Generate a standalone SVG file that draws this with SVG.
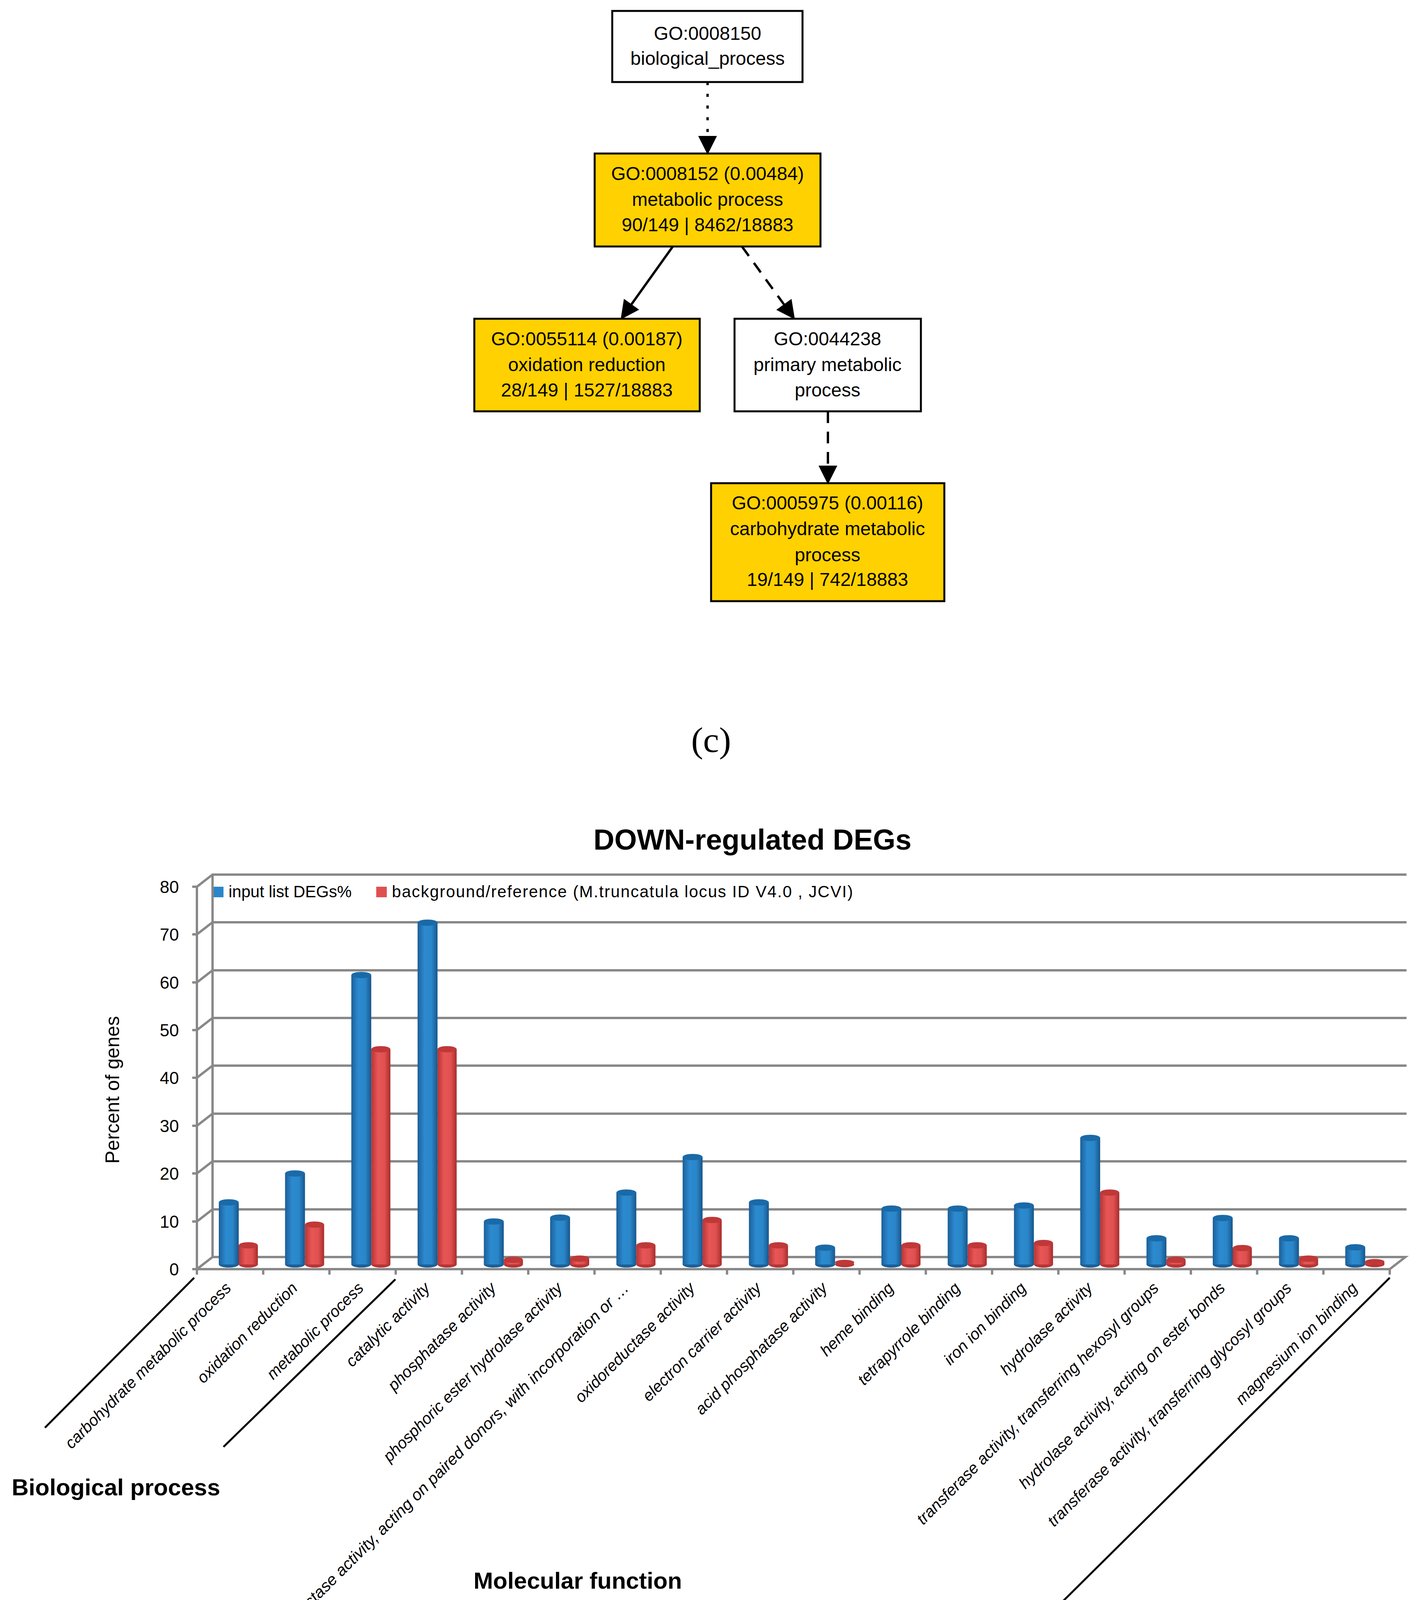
<svg xmlns="http://www.w3.org/2000/svg" width="3637" height="4545" viewBox="0 0 3637 4545">
<style>
.node{stroke:#000;stroke-width:5}
.y{fill:#ffd100}
.w{fill:#fff}
.nt{font-family:"Liberation Sans",Arial,sans-serif;font-size:48px;text-anchor:middle;fill:#000}
.edge{stroke:#000;stroke-width:6;fill:none}
.grid{stroke:#888;stroke-width:6;fill:none}
.tick{font-family:"Liberation Sans",Arial,sans-serif;font-size:44px;text-anchor:end;fill:#000}
.cat{font-family:"Liberation Sans",Arial,sans-serif;font-size:41px;font-style:italic;text-anchor:end;fill:#000}
.sec{font-family:"Liberation Sans",Arial,sans-serif;font-size:60px;font-weight:bold;fill:#000}
.lab{font-family:"Liberation Serif","Times New Roman",serif;font-size:92px;text-anchor:middle;fill:#000}
.div{stroke:#000;stroke-width:5}
</style>
<defs>
<marker id="ah" markerWidth="8" markerHeight="8" refX="7" refY="4" orient="auto" markerUnits="strokeWidth"><path d="M0,0 L8,4 L0,8 Z" fill="#000"/></marker>
<linearGradient id="gb" x1="0" x2="1" y1="0" y2="0"><stop offset="0" stop-color="#1c5f98"/><stop offset="0.35" stop-color="#2c8ad0"/><stop offset="0.7" stop-color="#2a86c8"/><stop offset="1" stop-color="#17568c"/></linearGradient>
<linearGradient id="gr" x1="0" x2="1" y1="0" y2="0"><stop offset="0" stop-color="#b83434"/><stop offset="0.35" stop-color="#e85656"/><stop offset="0.7" stop-color="#e05050"/><stop offset="1" stop-color="#a82c2c"/></linearGradient>
</defs>

<g id="connectors">
<line class="edge" x1="1811" y1="210" x2="1811" y2="390" stroke-dasharray="8,22" marker-end="url(#ah)"/>
<line class="edge" x1="1722" y1="631" x2="1592" y2="813" marker-end="url(#ah)"/>
<line class="edge" x1="1899" y1="631" x2="2031" y2="813" stroke-dasharray="30,22" marker-end="url(#ah)"/>
<line class="edge" x1="2119" y1="1053" x2="2119" y2="1234" stroke-dasharray="30,22" marker-end="url(#ah)"/>
</g>

<g id="n1"><rect class="node w" x="1567" y="28" width="487" height="182"/>
<text class="nt" x="1811" y="102">GO:0008150</text><text class="nt" x="1811" y="166">biological_process</text></g>
<g id="n2"><rect class="node y" x="1522" y="393" width="578" height="238"/>
<text class="nt" x="1811" y="461">GO:0008152 (0.00484)</text><text class="nt" x="1811" y="527">metabolic process</text><text class="nt" x="1811" y="592">90/149 | 8462/18883</text></g>
<g id="n3"><rect class="node y" x="1214" y="816" width="577" height="237"/>
<text class="nt" x="1502" y="884">GO:0055114 (0.00187)</text><text class="nt" x="1502" y="950">oxidation reduction</text><text class="nt" x="1502" y="1015">28/149 | 1527/18883</text></g>
<g id="n4"><rect class="node w" x="1880" y="816" width="477" height="237"/>
<text class="nt" x="2118" y="884">GO:0044238</text><text class="nt" x="2118" y="950">primary metabolic</text><text class="nt" x="2118" y="1015">process</text></g>
<g id="n5"><rect class="node y" x="1820" y="1237" width="597" height="302"/>
<text class="nt" x="2118" y="1304">GO:0005975 (0.00116)</text><text class="nt" x="2118" y="1370">carbohydrate metabolic</text><text class="nt" x="2118" y="1437">process</text><text class="nt" x="2118" y="1500">19/149 | 742/18883</text></g>

<text class="lab" x="1820" y="1925">(c)</text>

<g id="chart">
<text x="1926" y="2175" font-family="'Liberation Sans',Arial,sans-serif" font-size="74" font-weight="bold" text-anchor="middle">DOWN-regulated DEGs</text>
<g class="grid">
<path d="M504,3249 L544,3218 L3597,3218 L3557,3249 Z"/>
<path d="M504,3127 L544,3096 L3600,3096"/>
<path d="M504,3004 L544,2973 L3600,2973"/>
<path d="M504,2882 L544,2851 L3600,2851"/>
<path d="M504,2759 L544,2728 L3600,2728"/>
<path d="M504,2637 L544,2606 L3600,2606"/>
<path d="M504,2515 L544,2484 L3600,2484"/>
<path d="M504,2392 L544,2361 L3600,2361"/>
<path d="M504,2270 L544,2239 L3600,2239"/>
<line x1="504" y1="2270" x2="504" y2="3249"/>
<line x1="544" y1="2239" x2="544" y2="3218"/>
<path d="M492,3249H504M492,3127H504M492,3004H504M492,2882H504M492,2759H504M492,2637H504M492,2515H504M492,2392H504M492,2270H504"/>
<path d="M504,3249v14M673.6,3249v14M843.2,3249v14M1012.8,3249v14M1182.4,3249v14M1352,3249v14M1521.6,3249v14M1691.2,3249v14M1860.8,3249v14M2030.4,3249v14M2200,3249v14M2369.6,3249v14M2539.2,3249v14M2708.8,3249v14M2878.4,3249v14M3048,3249v14M3217.6,3249v14M3387.2,3249v14M3557,3249v14"/>
</g>
<g class="tick">
<text x="458" y="3265">0</text><text x="458" y="3143">10</text><text x="458" y="3020">20</text><text x="458" y="2898">30</text><text x="458" y="2775">40</text><text x="458" y="2653">50</text><text x="458" y="2531">60</text><text x="458" y="2408">70</text><text x="458" y="2286">80</text>
</g>
<text transform="translate(305,2790) rotate(-90)" font-family="'Liberation Sans',Arial,sans-serif" font-size="50" text-anchor="middle">Percent of genes</text>
<rect x="547" y="2270" width="25" height="27" fill="#2a86c8"/>
<text x="585" y="2297" font-family="'Liberation Sans',Arial,sans-serif" font-size="42">input list DEGs%</text>
<rect x="963" y="2270" width="27" height="27" fill="#e05050"/>
<text x="1003" y="2297" font-family="'Liberation Sans',Arial,sans-serif" font-size="42" textLength="1180">background/reference (M.truncatula locus ID V4.0 , JCVI)</text>

<g id="bars">
<g transform="translate(560,3237)"><ellipse cx="25.5" cy="0" rx="25.5" ry="8" fill="#1c5f98"/><rect x="0" y="-159" width="51" height="159" fill="url(#gb)"/><ellipse cx="25.5" cy="-159" rx="25.5" ry="8" fill="#1a6aa8"/></g>
<g transform="translate(611,3237)"><ellipse cx="24.5" cy="0" rx="24.5" ry="8" fill="#b83434"/><rect x="0" y="-49" width="49" height="49" fill="url(#gr)"/><ellipse cx="24.5" cy="-49" rx="24.5" ry="8" fill="#c03838"/></g>
<g transform="translate(729.6,3237)"><ellipse cx="25.5" cy="0" rx="25.5" ry="8" fill="#1c5f98"/><rect x="0" y="-233" width="51" height="233" fill="url(#gb)"/><ellipse cx="25.5" cy="-233" rx="25.5" ry="8" fill="#1a6aa8"/></g>
<g transform="translate(780.6,3237)"><ellipse cx="24.5" cy="0" rx="24.5" ry="8" fill="#b83434"/><rect x="0" y="-102" width="49" height="102" fill="url(#gr)"/><ellipse cx="24.5" cy="-102" rx="24.5" ry="8" fill="#c03838"/></g>
<g transform="translate(899.2,3237)"><ellipse cx="25.5" cy="0" rx="25.5" ry="8" fill="#1c5f98"/><rect x="0" y="-741" width="51" height="741" fill="url(#gb)"/><ellipse cx="25.5" cy="-741" rx="25.5" ry="8" fill="#1a6aa8"/></g>
<g transform="translate(950.2,3237)"><ellipse cx="24.5" cy="0" rx="24.5" ry="8" fill="#b83434"/><rect x="0" y="-551" width="49" height="551" fill="url(#gr)"/><ellipse cx="24.5" cy="-551" rx="24.5" ry="8" fill="#c03838"/></g>
<g transform="translate(1068.8,3237)"><ellipse cx="25.5" cy="0" rx="25.5" ry="8" fill="#1c5f98"/><rect x="0" y="-875" width="51" height="875" fill="url(#gb)"/><ellipse cx="25.5" cy="-875" rx="25.5" ry="8" fill="#1a6aa8"/></g>
<g transform="translate(1119.8,3237)"><ellipse cx="24.5" cy="0" rx="24.5" ry="8" fill="#b83434"/><rect x="0" y="-551" width="49" height="551" fill="url(#gr)"/><ellipse cx="24.5" cy="-551" rx="24.5" ry="8" fill="#c03838"/></g>
<g transform="translate(1238.4,3237)"><ellipse cx="25.5" cy="0" rx="25.5" ry="8" fill="#1c5f98"/><rect x="0" y="-110" width="51" height="110" fill="url(#gb)"/><ellipse cx="25.5" cy="-110" rx="25.5" ry="8" fill="#1a6aa8"/></g>
<g transform="translate(1289.4,3237)"><ellipse cx="24.5" cy="0" rx="24.5" ry="8" fill="#b83434"/><rect x="0" y="-12" width="49" height="12" fill="url(#gr)"/><ellipse cx="24.5" cy="-12" rx="24.5" ry="8" fill="#c03838"/></g>
<g transform="translate(1408,3237)"><ellipse cx="25.5" cy="0" rx="25.5" ry="8" fill="#1c5f98"/><rect x="0" y="-120" width="51" height="120" fill="url(#gb)"/><ellipse cx="25.5" cy="-120" rx="25.5" ry="8" fill="#1a6aa8"/></g>
<g transform="translate(1459,3237)"><ellipse cx="24.5" cy="0" rx="24.5" ry="8" fill="#b83434"/><rect x="0" y="-15" width="49" height="15" fill="url(#gr)"/><ellipse cx="24.5" cy="-15" rx="24.5" ry="8" fill="#c03838"/></g>
<g transform="translate(1577.6,3237)"><ellipse cx="25.5" cy="0" rx="25.5" ry="8" fill="#1c5f98"/><rect x="0" y="-184" width="51" height="184" fill="url(#gb)"/><ellipse cx="25.5" cy="-184" rx="25.5" ry="8" fill="#1a6aa8"/></g>
<g transform="translate(1628.6,3237)"><ellipse cx="24.5" cy="0" rx="24.5" ry="8" fill="#b83434"/><rect x="0" y="-49" width="49" height="49" fill="url(#gr)"/><ellipse cx="24.5" cy="-49" rx="24.5" ry="8" fill="#c03838"/></g>
<g transform="translate(1747.2,3237)"><ellipse cx="25.5" cy="0" rx="25.5" ry="8" fill="#1c5f98"/><rect x="0" y="-275" width="51" height="275" fill="url(#gb)"/><ellipse cx="25.5" cy="-275" rx="25.5" ry="8" fill="#1a6aa8"/></g>
<g transform="translate(1798.2,3237)"><ellipse cx="24.5" cy="0" rx="24.5" ry="8" fill="#b83434"/><rect x="0" y="-114" width="49" height="114" fill="url(#gr)"/><ellipse cx="24.5" cy="-114" rx="24.5" ry="8" fill="#c03838"/></g>
<g transform="translate(1916.8,3237)"><ellipse cx="25.5" cy="0" rx="25.5" ry="8" fill="#1c5f98"/><rect x="0" y="-159" width="51" height="159" fill="url(#gb)"/><ellipse cx="25.5" cy="-159" rx="25.5" ry="8" fill="#1a6aa8"/></g>
<g transform="translate(1967.8,3237)"><ellipse cx="24.5" cy="0" rx="24.5" ry="8" fill="#b83434"/><rect x="0" y="-49" width="49" height="49" fill="url(#gr)"/><ellipse cx="24.5" cy="-49" rx="24.5" ry="8" fill="#c03838"/></g>
<g transform="translate(2086.4,3237)"><ellipse cx="25.5" cy="0" rx="25.5" ry="8" fill="#1c5f98"/><rect x="0" y="-43" width="51" height="43" fill="url(#gb)"/><ellipse cx="25.5" cy="-43" rx="25.5" ry="8" fill="#1a6aa8"/></g>
<g transform="translate(2137.4,3237)"><ellipse cx="24.5" cy="0" rx="24.5" ry="7" fill="#b83434"/><ellipse cx="24.5" cy="-5" rx="24.5" ry="7" fill="#c03838"/></g>
<g transform="translate(2256,3237)"><ellipse cx="25.5" cy="0" rx="25.5" ry="8" fill="#1c5f98"/><rect x="0" y="-143" width="51" height="143" fill="url(#gb)"/><ellipse cx="25.5" cy="-143" rx="25.5" ry="8" fill="#1a6aa8"/></g>
<g transform="translate(2307,3237)"><ellipse cx="24.5" cy="0" rx="24.5" ry="8" fill="#b83434"/><rect x="0" y="-49" width="49" height="49" fill="url(#gr)"/><ellipse cx="24.5" cy="-49" rx="24.5" ry="8" fill="#c03838"/></g>
<g transform="translate(2425.6,3237)"><ellipse cx="25.5" cy="0" rx="25.5" ry="8" fill="#1c5f98"/><rect x="0" y="-143" width="51" height="143" fill="url(#gb)"/><ellipse cx="25.5" cy="-143" rx="25.5" ry="8" fill="#1a6aa8"/></g>
<g transform="translate(2476.6,3237)"><ellipse cx="24.5" cy="0" rx="24.5" ry="8" fill="#b83434"/><rect x="0" y="-49" width="49" height="49" fill="url(#gr)"/><ellipse cx="24.5" cy="-49" rx="24.5" ry="8" fill="#c03838"/></g>
<g transform="translate(2595.2,3237)"><ellipse cx="25.5" cy="0" rx="25.5" ry="8" fill="#1c5f98"/><rect x="0" y="-151" width="51" height="151" fill="url(#gb)"/><ellipse cx="25.5" cy="-151" rx="25.5" ry="8" fill="#1a6aa8"/></g>
<g transform="translate(2646.2,3237)"><ellipse cx="24.5" cy="0" rx="24.5" ry="8" fill="#b83434"/><rect x="0" y="-55" width="49" height="55" fill="url(#gr)"/><ellipse cx="24.5" cy="-55" rx="24.5" ry="8" fill="#c03838"/></g>
<g transform="translate(2764.8,3237)"><ellipse cx="25.5" cy="0" rx="25.5" ry="8" fill="#1c5f98"/><rect x="0" y="-324" width="51" height="324" fill="url(#gb)"/><ellipse cx="25.5" cy="-324" rx="25.5" ry="8" fill="#1a6aa8"/></g>
<g transform="translate(2815.8,3237)"><ellipse cx="24.5" cy="0" rx="24.5" ry="8" fill="#b83434"/><rect x="0" y="-184" width="49" height="184" fill="url(#gr)"/><ellipse cx="24.5" cy="-184" rx="24.5" ry="8" fill="#c03838"/></g>
<g transform="translate(2934.4,3237)"><ellipse cx="25.5" cy="0" rx="25.5" ry="8" fill="#1c5f98"/><rect x="0" y="-67" width="51" height="67" fill="url(#gb)"/><ellipse cx="25.5" cy="-67" rx="25.5" ry="8" fill="#1a6aa8"/></g>
<g transform="translate(2985.4,3237)"><ellipse cx="24.5" cy="0" rx="24.5" ry="8" fill="#b83434"/><rect x="0" y="-12" width="49" height="12" fill="url(#gr)"/><ellipse cx="24.5" cy="-12" rx="24.5" ry="8" fill="#c03838"/></g>
<g transform="translate(3104,3237)"><ellipse cx="25.5" cy="0" rx="25.5" ry="8" fill="#1c5f98"/><rect x="0" y="-119" width="51" height="119" fill="url(#gb)"/><ellipse cx="25.5" cy="-119" rx="25.5" ry="8" fill="#1a6aa8"/></g>
<g transform="translate(3155,3237)"><ellipse cx="24.5" cy="0" rx="24.5" ry="8" fill="#b83434"/><rect x="0" y="-42" width="49" height="42" fill="url(#gr)"/><ellipse cx="24.5" cy="-42" rx="24.5" ry="8" fill="#c03838"/></g>
<g transform="translate(3273.6,3237)"><ellipse cx="25.5" cy="0" rx="25.5" ry="8" fill="#1c5f98"/><rect x="0" y="-67" width="51" height="67" fill="url(#gb)"/><ellipse cx="25.5" cy="-67" rx="25.5" ry="8" fill="#1a6aa8"/></g>
<g transform="translate(3324.6,3237)"><ellipse cx="24.5" cy="0" rx="24.5" ry="8" fill="#b83434"/><rect x="0" y="-15" width="49" height="15" fill="url(#gr)"/><ellipse cx="24.5" cy="-15" rx="24.5" ry="8" fill="#c03838"/></g>
<g transform="translate(3443.2,3237)"><ellipse cx="25.5" cy="0" rx="25.5" ry="8" fill="#1c5f98"/><rect x="0" y="-44" width="51" height="44" fill="url(#gb)"/><ellipse cx="25.5" cy="-44" rx="25.5" ry="8" fill="#1a6aa8"/></g>
<g transform="translate(3494.2,3237)"><ellipse cx="24.5" cy="0" rx="24.5" ry="7" fill="#b83434"/><rect x="0" y="-7" width="49" height="7" fill="url(#gr)"/><ellipse cx="24.5" cy="-7" rx="24.5" ry="7" fill="#c03838"/></g>
</g>

<g id="categories">
<text class="cat" transform="translate(594,3300) rotate(-45)">carbohydrate metabolic process</text>
<text class="cat" transform="translate(764,3300) rotate(-45)">oxidation reduction</text>
<text class="cat" transform="translate(933,3300) rotate(-45)">metabolic process</text>
<text class="cat" transform="translate(1103,3300) rotate(-45)">catalytic activity</text>
<text class="cat" transform="translate(1272,3300) rotate(-45)">phosphatase activity</text>
<text class="cat" transform="translate(1442,3300) rotate(-45)">phosphoric ester hydrolase activity</text>
<text class="cat" transform="translate(1612,3300) rotate(-45)" textLength="1340" lengthAdjust="spacingAndGlyphs">oxidoreductase activity, acting on paired donors, with incorporation or …</text>
<text class="cat" transform="translate(1781,3300) rotate(-45)">oxidoreductase activity</text>
<text class="cat" transform="translate(1951,3300) rotate(-45)">electron carrier activity</text>
<text class="cat" transform="translate(2120,3300) rotate(-45)">acid phosphatase activity</text>
<text class="cat" transform="translate(2290,3300) rotate(-45)">heme binding</text>
<text class="cat" transform="translate(2460,3300) rotate(-45)">tetrapyrrole binding</text>
<text class="cat" transform="translate(2629,3300) rotate(-45)">iron ion binding</text>
<text class="cat" transform="translate(2799,3300) rotate(-45)">hydrolase activity</text>
<text class="cat" transform="translate(2968,3300) rotate(-45)">transferase activity, transferring hexosyl groups</text>
<text class="cat" transform="translate(3138,3300) rotate(-45)">hydrolase activity, acting on ester bonds</text>
<text class="cat" transform="translate(3308,3300) rotate(-45)">transferase activity, transferring glycosyl groups</text>
<text class="cat" transform="translate(3477,3300) rotate(-45)">magnesium ion binding</text>
</g>
<line class="div" x1="497" y1="3271" x2="115" y2="3655"/>
<line class="div" x1="1012" y1="3275" x2="572" y2="3704"/>
<line class="div" x1="3557" y1="3271" x2="2661" y2="4158"/>
<text class="sec" x="30" y="3828">Biological process</text>
<text class="sec" x="1212" y="4067">Molecular function</text>
<text class="sec" x="1576" y="4328">GO annotation</text>
</g>
<text class="lab" x="1820" y="4500">(d)</text>
</svg>
